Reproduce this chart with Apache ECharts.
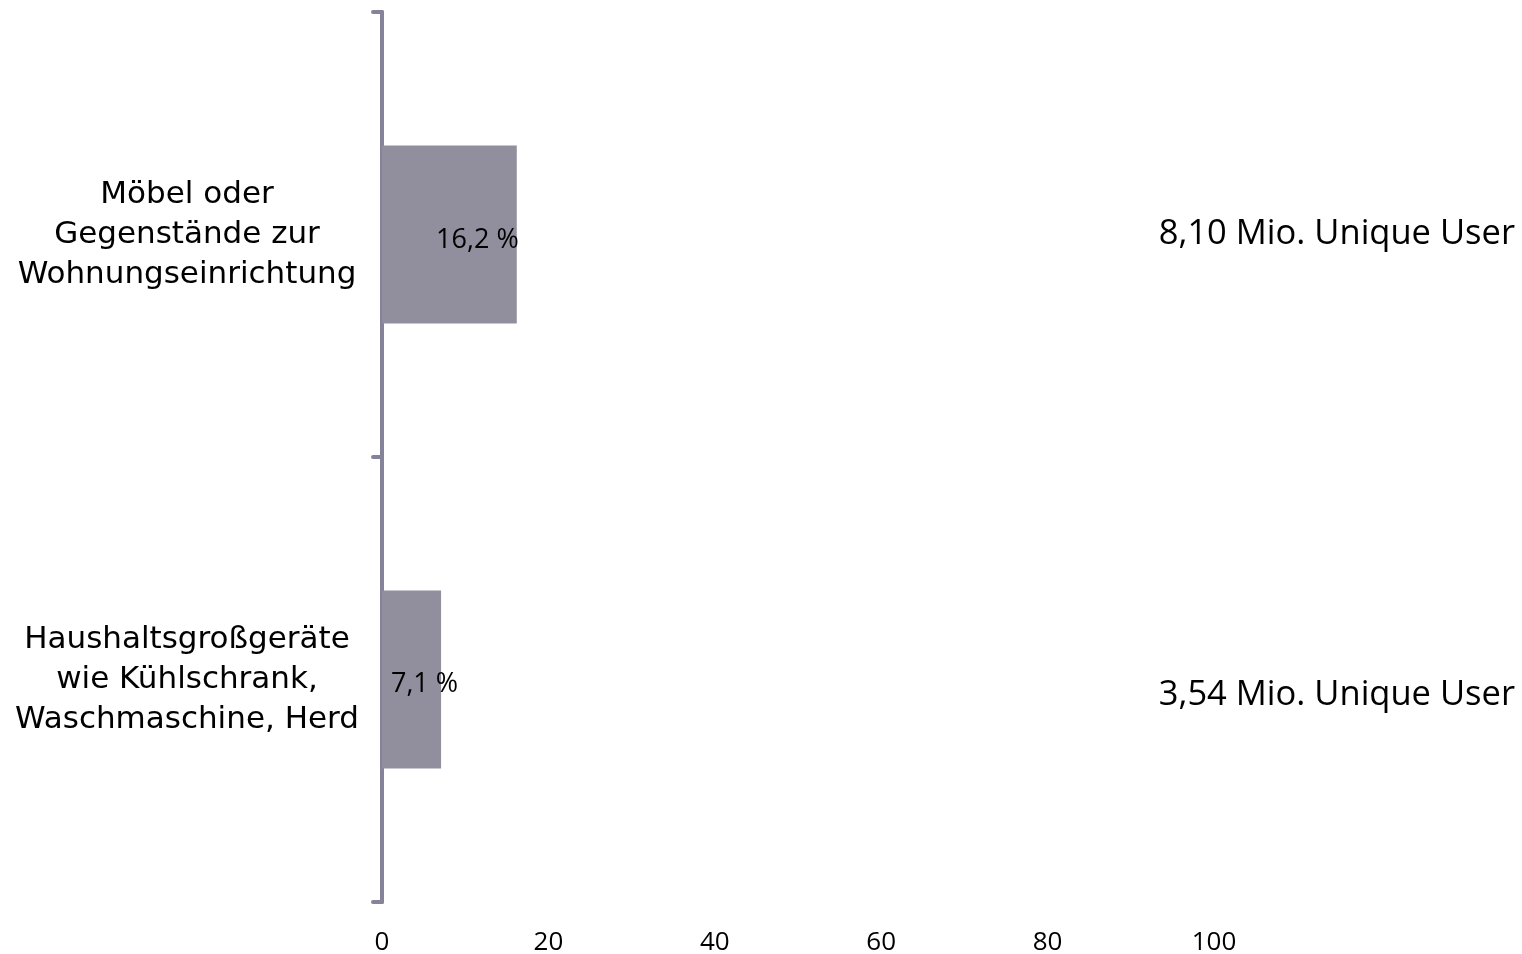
<!DOCTYPE html>
<html>
<head>
<meta charset="utf-8">
<script src="https://cdn.jsdelivr.net/npm/echarts@6/dist/echarts.min.js"></script>
<style>
  html, body { margin: 0; padding: 0; background: #ffffff; }
  #chart { width: 1522px; height: 954px; }
</style>
</head>
<body>
<div id="chart"></div>
<script>
// Kategorien (von oben nach unten)
const categories = [
  'Möbel oder\nGegenstände zur\nWohnungseinrichtung',
  'Haushaltsgroßgeräte\nwie Kühlschrank,\nWaschmaschine, Herd'
];
// Anteil in Prozent
const shares = [16.2, 7.1];
// Reichweite in Mio. Unique User
const usersMio = [8.10, 3.54];
// Beschriftung der Werteachse
const xTicks = [0, 20, 40, 60, 80, 100];

const fmtDe = (v, d) => v.toFixed(d).replace('.', ',');
const userLabels = usersMio.map(v => fmtDe(v, 2) + ' Mio. Unique User');

const barColor = '#918f9d';
const axisColor = '#858399';
const labelOffsets = [[28, 6], [13, 5]];

const chart = echarts.init(document.getElementById('chart'));
chart.setOption({
  animation: false,
  backgroundColor: '#ffffff',
  grid: {
    left: 382, right: 308, top: 12, bottom: 52,
    containLabel: false,
    outerBoundsMode: 'none'
  },
  xAxis: {
    type: 'value',
    min: xTicks[0],
    max: xTicks[xTicks.length - 1],
    interval: xTicks[1] - xTicks[0],
    axisLine: { show: false },
    axisTick: { show: false },
    splitLine: { show: false },
    axisLabel: {
      margin: 28,
      color: '#000000',
      fontFamily: 'Open Sans',
      fontSize: 26
    }
  },
  yAxis: [
    {
      type: 'category',
      data: categories,
      inverse: true,
      axisLine: { show: true, lineStyle: { color: axisColor, width: 4, cap: 'round' } },
      axisTick: { show: true, length: 9, lineStyle: { color: axisColor, width: 4, cap: 'round' } },
      axisLabel: {
        margin: 195,
        align: 'center',
        color: '#000000',
        fontFamily: 'DejaVu Sans',
        fontSize: 31,
        lineHeight: 40
      }
    },
    {
      type: 'category',
      position: 'right',
      data: userLabels,
      inverse: true,
      axisLine: { show: false },
      axisTick: { show: false },
      axisLabel: {
        margin: 301,
        align: 'right',
        color: '#000000',
        fontFamily: 'Open Sans',
        fontSize: 34.5,
        lineHeight: 32,
        // the lower entry sits slightly below its bar
        formatter: (v, i) => (i === 1 ? '\n' + v : v)
      }
    }
  ],
  series: [
    {
      type: 'bar',
      yAxisIndex: 0,
      barWidth: '40%',
      itemStyle: { color: barColor },
      data: shares.map((v, i) => ({
        value: v,
        label: { offset: labelOffsets[i] }
      })),
      label: {
        show: true,
        position: 'inside',
        color: '#000000',
        fontFamily: 'Open Sans',
        fontSize: 27,
        formatter: p => fmtDe(p.value, 1) + ' %'
      }
    }
  ]
});
</script>
</body>
</html>
